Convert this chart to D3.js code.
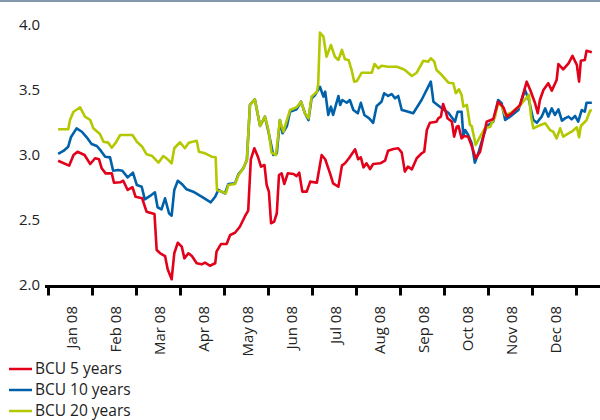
<!DOCTYPE html>
<html><head><meta charset="utf-8">
<script src="https://cdn.jsdelivr.net/npm/d3@7"></script>
<style>
html,body{margin:0;padding:0;background:#fff;}
svg{display:block;font-family:"Open Sans",sans-serif;}
</style></head>
<body>
<svg id="chart" width="600" height="420"></svg>
<script>
// x = position in months since start of Jan 2008 (0 = 1 Jan, 12 = 1 Jan 2009)
const monthLabels = ["Jan 08","Feb 08","Mar 08","Apr 08","May 08","Jun 08","Jul 08","Aug 08","Sep 08","Oct 08","Nov 08","Dec 08"];
const yTicks = [2.0, 2.5, 3.0, 3.5, 4.0];
const seriesNames = ["BCU 5 years","BCU 10 years","BCU 20 years"];

const bcu5 = [[0.23,2.956],[0.48,2.918],[0.58,3.0],[0.67,3.025],[0.83,3.0],[0.96,2.931],[1.07,2.975],[1.16,2.967],[1.22,2.898],[1.31,2.859],[1.45,2.859],[1.5,2.787],[1.64,2.79],[1.71,2.802],[1.81,2.731],[1.92,2.752],[1.99,2.679],[2.14,2.667],[2.24,2.564],[2.42,2.546],[2.47,2.269],[2.55,2.244],[2.66,2.223],[2.72,2.121],[2.81,2.044],[2.87,2.244],[2.95,2.325],[3.04,2.295],[3.1,2.205],[3.19,2.244],[3.27,2.223],[3.38,2.167],[3.49,2.159],[3.57,2.172],[3.68,2.148],[3.8,2.167],[3.83,2.256],[3.93,2.315],[4.06,2.315],[4.14,2.385],[4.25,2.402],[4.36,2.448],[4.48,2.531],[4.55,2.572],[4.61,2.967],[4.69,3.052],[4.77,2.987],[4.84,2.91],[4.92,2.923],[4.97,2.769],[5.02,2.718],[5.07,2.475],[5.14,2.487],[5.2,2.552],[5.25,2.846],[5.31,2.859],[5.37,2.777],[5.45,2.859],[5.58,2.854],[5.65,2.838],[5.71,2.864],[5.78,2.718],[5.88,2.718],[5.96,2.795],[6.11,2.787],[6.22,3.0],[6.3,2.967],[6.41,2.859],[6.48,2.782],[6.6,2.756],[6.68,2.918],[6.75,2.936],[6.84,2.975],[6.98,3.044],[7.05,2.967],[7.11,2.982],[7.17,2.905],[7.24,2.936],[7.32,2.892],[7.39,2.931],[7.55,2.936],[7.66,2.956],[7.73,3.033],[7.85,3.046],[7.96,3.052],[8.04,3.018],[8.11,2.872],[8.18,2.91],[8.27,2.89],[8.38,2.975],[8.49,3.013],[8.55,3.025],[8.61,3.192],[8.68,3.248],[8.83,3.256],[8.87,3.282],[8.93,3.295],[8.98,3.392],[9.04,3.333],[9.08,3.282],[9.18,3.256],[9.23,3.141],[9.29,3.218],[9.33,3.223],[9.4,3.128],[9.46,3.146],[9.55,3.141],[9.63,3.069],[9.72,2.975],[9.82,3.025],[9.97,3.256],[10.12,3.277],[10.23,3.41],[10.35,3.367],[10.43,3.295],[10.54,3.321],[10.73,3.385],[10.88,3.564],[10.96,3.5],[11.07,3.398],[11.13,3.321],[11.18,3.423],[11.26,3.5],[11.37,3.552],[11.45,3.495],[11.56,3.577],[11.6,3.7],[11.71,3.659],[11.83,3.705],[11.92,3.762],[12.02,3.692],[12.07,3.564],[12.11,3.725],[12.2,3.731],[12.24,3.802],[12.36,3.79]];

const bcu10 = [[0.23,3.008],[0.35,3.031],[0.46,3.064],[0.52,3.136],[0.65,3.205],[0.77,3.179],[0.88,3.136],[0.99,3.085],[1.11,3.069],[1.2,3.033],[1.3,2.987],[1.41,2.982],[1.48,2.879],[1.6,2.885],[1.69,2.879],[1.81,2.828],[1.93,2.864],[2.02,2.769],[2.13,2.756],[2.2,2.659],[2.32,2.685],[2.43,2.713],[2.49,2.598],[2.58,2.582],[2.66,2.667],[2.75,2.552],[2.81,2.533],[2.87,2.731],[2.95,2.802],[3.04,2.777],[3.15,2.736],[3.3,2.718],[3.49,2.679],[3.7,2.636],[3.8,2.679],[3.87,2.731],[4.02,2.705],[4.1,2.777],[4.25,2.782],[4.33,2.854],[4.44,2.898],[4.52,2.962],[4.59,3.385],[4.7,3.428],[4.82,3.223],[4.93,3.295],[5.01,3.179],[5.12,3.0],[5.2,3.013],[5.27,3.269],[5.33,3.167],[5.43,3.223],[5.5,3.333],[5.65,3.351],[5.75,3.41],[5.84,3.321],[5.92,3.269],[5.99,3.436],[6.07,3.462],[6.18,3.525],[6.26,3.449],[6.3,3.487],[6.37,3.308],[6.43,3.372],[6.48,3.308],[6.6,3.454],[6.64,3.385],[6.69,3.423],[6.79,3.402],[6.86,3.423],[6.94,3.346],[7.04,3.321],[7.11,3.402],[7.19,3.308],[7.3,3.282],[7.39,3.248],[7.47,3.377],[7.58,3.41],[7.64,3.475],[7.73,3.454],[7.81,3.469],[7.89,3.436],[7.96,3.454],[8.04,3.346],[8.11,3.341],[8.3,3.321],[8.49,3.423],[8.7,3.564],[8.76,3.41],[8.95,3.359],[9.1,3.325],[9.25,3.256],[9.31,3.333],[9.4,3.333],[9.44,3.146],[9.48,3.192],[9.55,3.154],[9.63,3.09],[9.7,2.941],[9.78,3.013],[9.89,3.141],[9.97,3.223],[10.12,3.256],[10.23,3.423],[10.31,3.398],[10.39,3.269],[10.5,3.295],[10.69,3.346],[10.84,3.5],[10.93,3.423],[11.03,3.269],[11.11,3.248],[11.22,3.295],[11.3,3.359],[11.37,3.295],[11.45,3.359],[11.52,3.308],[11.6,3.351],[11.68,3.264],[11.75,3.282],[11.83,3.295],[11.9,3.274],[11.98,3.3],[12.05,3.256],[12.13,3.346],[12.2,3.333],[12.24,3.402],[12.36,3.402]];

const bcu20 = [[0.23,3.198],[0.46,3.198],[0.5,3.269],[0.58,3.333],[0.73,3.367],[0.84,3.295],[0.96,3.269],[1.03,3.205],[1.18,3.162],[1.26,3.102],[1.37,3.095],[1.45,3.056],[1.54,3.095],[1.64,3.154],[1.92,3.154],[2.02,3.102],[2.14,3.064],[2.24,3.005],[2.37,2.992],[2.51,2.941],[2.62,2.992],[2.72,2.967],[2.81,2.936],[2.87,3.052],[3.0,3.098],[3.11,3.052],[3.2,3.095],[3.38,3.11],[3.43,3.025],[3.57,3.013],[3.72,2.987],[3.81,2.982],[3.84,2.731],[3.95,2.718],[4.04,2.705],[4.1,2.769],[4.25,2.777],[4.33,2.846],[4.44,2.898],[4.52,2.962],[4.59,3.385],[4.7,3.428],[4.82,3.223],[4.93,3.295],[5.01,3.192],[5.08,3.018],[5.18,3.0],[5.23,3.141],[5.27,3.269],[5.35,3.179],[5.43,3.269],[5.5,3.346],[5.65,3.367],[5.75,3.41],[5.84,3.321],[5.92,3.282],[5.99,3.449],[6.11,3.487],[6.14,3.538],[6.18,3.941],[6.26,3.91],[6.33,3.756],[6.43,3.846],[6.52,3.756],[6.6,3.731],[6.68,3.808],[6.75,3.736],[6.83,3.731],[6.9,3.654],[6.96,3.564],[7.02,3.569],[7.13,3.633],[7.36,3.633],[7.42,3.7],[7.51,3.667],[7.58,3.687],[7.73,3.679],[7.93,3.679],[8.08,3.659],[8.11,3.654],[8.27,3.608],[8.38,3.633],[8.53,3.725],[8.64,3.718],[8.7,3.744],[8.78,3.718],[8.83,3.654],[8.95,3.615],[9.1,3.556],[9.21,3.552],[9.27,3.475],[9.34,3.505],[9.4,3.462],[9.44,3.372],[9.52,3.385],[9.59,3.231],[9.63,3.223],[9.72,3.077],[9.82,3.141],[9.93,3.205],[10.05,3.218],[10.16,3.295],[10.23,3.402],[10.31,3.377],[10.39,3.308],[10.5,3.321],[10.69,3.367],[10.93,3.462],[10.98,3.295],[11.03,3.205],[11.14,3.223],[11.3,3.244],[11.41,3.192],[11.48,3.179],[11.56,3.128],[11.64,3.205],[11.71,3.141],[11.81,3.162],[11.9,3.179],[12.02,3.213],[12.07,3.136],[12.11,3.223],[12.24,3.269],[12.32,3.341],[12.36,3.346]];

const colors = ["#e2001a", "#0061ab", "#b3c800"];

const svg = d3.select("#chart");
const x = d3.scaleLinear().domain([0, 12]).range([48, 576]);
const y = d3.scaleLinear().domain([2, 4]).range([285, 25]);

// top border
svg.append("rect").attr("x", 0).attr("y", 0).attr("width", 600).attr("height", 2).attr("fill", "#8497ab");

// y axis labels
const yAxis = svg.append("g").attr("transform", "translate(45,0)")
  .call(d3.axisLeft(y).tickValues(yTicks).tickFormat(d3.format(".1f")).tickSize(0).tickPadding(5));
yAxis.select(".domain").remove();
yAxis.selectAll("text").attr("font-size", 15).attr("fill", "#222").attr("font-family", "'Open Sans',sans-serif");

// lines
const line = d3.line().x(d => x(d[0])).y(d => y(d[1]));
const order = [1, 2, 0];
const data = [bcu5, bcu10, bcu20];
order.forEach(i => {
  svg.append("path").datum(data[i]).attr("d", line)
    .attr("fill", "none").attr("stroke", colors[i]).attr("stroke-width", 2.6)
    .attr("stroke-linejoin", "round");
});

// x axis
svg.append("line").attr("x1", 45).attr("x2", 600).attr("y1", y(2) + 1.5).attr("y2", y(2) + 1.5)
  .attr("stroke", "#000").attr("stroke-width", 3);
const xAxis = svg.append("g").attr("transform", `translate(0,${y(2) + 1.5})`)
  .call(d3.axisBottom(x).tickValues(d3.range(13)).tickFormat("").tickSize(9).tickSizeOuter(0));
xAxis.select(".domain").remove();
xAxis.selectAll(".tick line").attr("stroke", "#000").attr("stroke-width", 3);

svg.append("g").selectAll("text").data(monthLabels).join("text")
  .attr("transform", (d, i) => `translate(${x(i + 0.5) + 1.5},306) rotate(-90)`)
  .attr("text-anchor", "end").attr("dy", "0.35em")
  .attr("font-size", 15).attr("fill", "#222").text(d => d);

// legend
const leg = svg.append("g").selectAll("g").data(seriesNames).join("g")
  .attr("transform", (d, i) => `translate(0,${369 + i * 21})`);
leg.append("line").attr("x1", 9).attr("x2", 32).attr("y1", 0).attr("y2", 0)
  .attr("stroke", (d, i) => colors[i]).attr("stroke-width", 2.5);
leg.append("text").attr("x", 35).attr("y", 0).attr("dy", "0.35em")
  .attr("font-size", 15.5).attr("fill", "#222").text(d => d);
</script>
</body></html>
